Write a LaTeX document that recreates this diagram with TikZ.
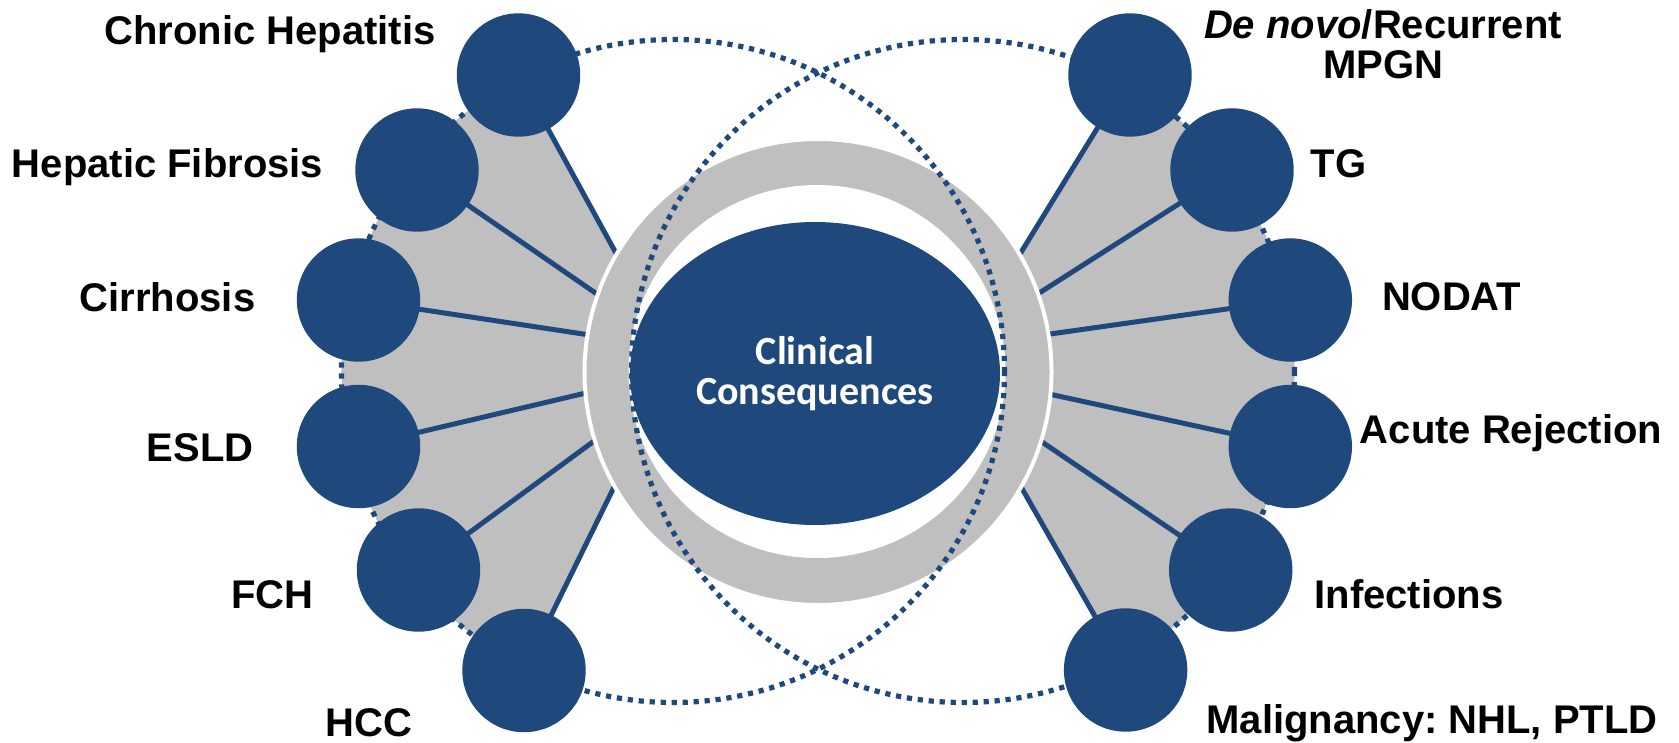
\documentclass[tikz,border=0pt]{standalone}
\usepackage{fontspec}
\setmainfont{Liberation Sans}
\newfontfamily\hubfont{Carlito}
\usetikzlibrary{shapes.geometric,calc}
\definecolor{navy}{HTML}{1F497D}
\definecolor{silver}{HTML}{BFBFBF}
\pgfdeclarelayer{paper}
\pgfdeclarelayer{fanlayer}
\pgfdeclarelayer{linklayer}
\pgfdeclarelayer{hublayer}
\pgfdeclarelayer{dotlayer}
\pgfsetlayers{paper,fanlayer,linklayer,hublayer,dotlayer,main}
\frenchspacing
\begin{document}
\begin{tikzpicture}[x=0.5pt,y=-0.5pt,
  bubble/.style={circle,fill=navy,inner sep=0pt,minimum size=61.7pt},
  tag/.style={anchor=base,inner sep=0pt,font=\bfseries\fontsize{20}{20}\selectfont},
  link/.style={navy,line width=2.5pt},
  dotring/.style={navy,line width=2.6pt,dash pattern=on 2.6pt off 2.9pt},
  oval/.style={ellipse,inner sep=0pt}]
\begin{pgfonlayer}{paper}
  \fill[white] (0,0) rectangle (1679,743);
\end{pgfonlayer}
\useasboundingbox (0,0) rectangle (1679,743);

% centres of the hub ring and of the two dotted circles
\coordinate (rc) at (818,372);
\coordinate (ldc) at (673,371);
\coordinate (rdc) at (963,371);

% end points of the spokes on the outer edge of the ring
\foreach \n/\a in {1/210.4,2/199.4,3/189.2,4/174.8,5/162.9,6/150.6,
                   7/-30.3,8/-19.6,9/-9.3,10/5.5,11/17.3,12/29.6}
  \coordinate (e\n) at ($(rc)+(\a:234)$);

% left bubbles
\node[bubble] (c1) at (518.5,75) {};
\node[bubble] (c2) at (417,170) {};
\node[bubble] (c3) at (358.5,300) {};
\node[bubble] (c4) at (358.5,446.5) {};
\node[bubble] (c5) at (418.5,570) {};
\node[bubble] (c6) at (524,670.5) {};
% right bubbles
\node[bubble] (c7) at (1130,75) {};
\node[bubble] (c8) at (1232,170) {};
\node[bubble] (c9) at (1290.3,300) {};
\node[bubble] (c10) at (1290.3,446.5) {};
\node[bubble] (c11) at (1230.7,570) {};
\node[bubble] (c12) at (1125.6,670) {};

% central hub: grey ring with white rim, white gap, dark core
\begin{pgfonlayer}{hublayer}
  \node[oval,fill=silver,draw=white,line width=2pt,
        minimum width=233.5pt,minimum height=233pt] (ring) at (rc) {};
  \node[oval,fill=white,minimum width=188.5pt,minimum height=186.5pt]
        (gap) at (817,371.5) {};
\end{pgfonlayer}
\node[oval,fill=navy,minimum width=185pt,minimum height=151.5pt,
      text=white,align=center,
      font=\hubfont\bfseries\fontsize{20}{20}\selectfont]
      (hub) at (815,373.5) {Clinical\\Consequences};

% grey fans behind the spokes
\begin{pgfonlayer}{fanlayer}
  \fill[silver] (c1.center) -- (e1) -- (e6) -- (c6.center)
    -- ($(ldc)+(116.45:331.5)$) arc[start angle=116.45,end angle=242.44,radius=331.5]
    -- cycle;
  \fill[silver] (c7.center) -- (e7) -- (e12) -- (c12.center)
    -- ($(rdc)+(61.46:331.5)$) arc[start angle=61.46,end angle=-60.57,radius=331.5]
    -- cycle;
\end{pgfonlayer}

% spokes
\begin{pgfonlayer}{linklayer}
  \foreach \n in {1,...,12}
    \draw[link] (c\n.center) -- (e\n);
\end{pgfonlayer}

% dotted circles
\begin{pgfonlayer}{dotlayer}
  \draw[dotring] (ldc) circle[radius=331.5];
  \draw[dotring] (rdc) circle[radius=331.5];
\end{pgfonlayer}

% labels
\node[tag] (t1) at (270,45) {Chronic Hepatitis};
\node[tag] (t2) at (167.5,177) {Hepatic Fibrosis};
\node[tag] (t3) at (167.5,311) {Cirrhosis};
\node[tag] (t4) at (200,461) {ESLD};
\node[tag] (t5) at (272.5,608) {FCH};
\node[tag] (t6) at (369,736) {HCC};
\node[tag,anchor=center,align=center] (t7) at (1383,44)
  {\textit{De novo}/Recurrent\\MPGN};
\node[tag] (t8) at (1338.5,178) {TG};
\node[tag] (t9) at (1451.7,310) {NODAT};
\node[tag] (t10) at (1511,443.3) {Acute Rejection};
\node[tag] (t11) at (1409,608.3) {Infections};
\node[tag] (t12) at (1432,733) {Malignancy: NHL, PTLD};
\end{tikzpicture}
\end{document}
